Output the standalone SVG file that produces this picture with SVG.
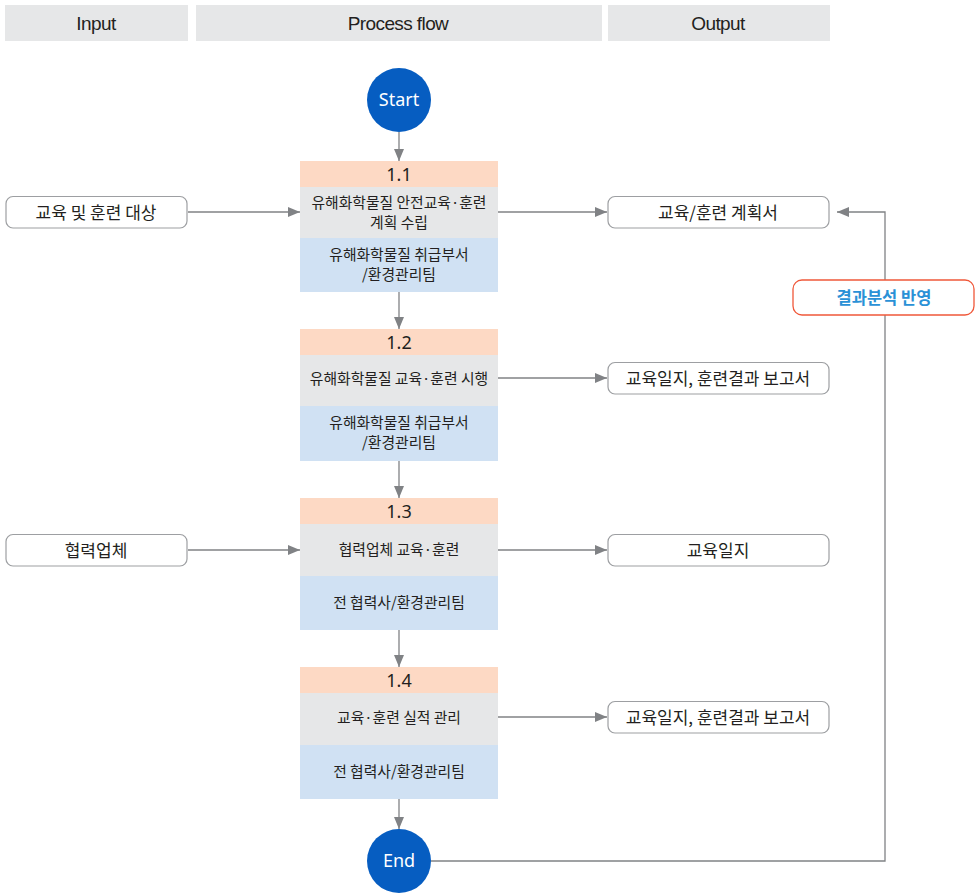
<svg xmlns="http://www.w3.org/2000/svg" width="975" height="896" viewBox="0 0 975 896">
<style>
.hdr{fill:#E6E7E8}
.hdrt{font-family:"Liberation Sans","Noto Sans CJK KR",sans-serif;font-size:19px;fill:#231F20;text-anchor:middle;letter-spacing:-0.6px}
.num{fill:#FDD9C4}
.task{fill:#E6E7E8}
.org{fill:#D0E1F3}
.numt{font-family:"Noto Sans","Liberation Sans",sans-serif;font-size:18px;fill:#231F20;text-anchor:middle}
.t{font-family:"Noto Sans CJK KR",sans-serif;font-size:14.8px;fill:#231F20;text-anchor:middle}
.io{fill:#fff;stroke:#9D9FA2;stroke-width:1.2}
.iot{font-family:"Noto Sans CJK KR",sans-serif;font-size:17px;fill:#231F20;text-anchor:middle}
.circ{fill:#065DC1}
.ct{font-family:"Noto Sans","Liberation Sans",sans-serif;font-size:18px;fill:#fff;text-anchor:middle}
.ln{fill:none;stroke:#808285;stroke-width:1.3}
</style>
<defs>
<marker id="ah" viewBox="0 0 12 10" refX="12" refY="5" markerWidth="13" markerHeight="10" markerUnits="userSpaceOnUse" orient="auto">
<path d="M0,0 L12,5 L0,10 Z" fill="#808285"/>
</marker>
</defs>

<g id="headers">
<rect class="hdr" x="5" y="5" width="183" height="36"/>
<text class="hdrt" x="96" y="30">Input</text>
<rect class="hdr" x="196" y="5" width="406" height="36"/>
<text class="hdrt" x="398" y="30">Process flow</text>
<rect class="hdr" x="608" y="5" width="222" height="36"/>
<text class="hdrt" x="718" y="30">Output</text>
</g>

<g id="connectors">
<line class="ln" x1="399" y1="132" x2="399" y2="161" marker-end="url(#ah)"/>
<line class="ln" x1="399" y1="292" x2="399" y2="329" marker-end="url(#ah)"/>
<line class="ln" x1="399" y1="461" x2="399" y2="498" marker-end="url(#ah)"/>
<line class="ln" x1="399" y1="630" x2="399" y2="667" marker-end="url(#ah)"/>
<line class="ln" x1="399" y1="799" x2="399" y2="829" marker-end="url(#ah)"/>
<line class="ln" x1="188" y1="212" x2="300" y2="212" marker-end="url(#ah)"/>
<line class="ln" x1="188" y1="550" x2="300" y2="550" marker-end="url(#ah)"/>
<line class="ln" x1="498" y1="212" x2="607" y2="212" marker-end="url(#ah)"/>
<line class="ln" x1="498" y1="378" x2="607" y2="378" marker-end="url(#ah)"/>
<line class="ln" x1="498" y1="550" x2="607" y2="550" marker-end="url(#ah)"/>
<line class="ln" x1="498" y1="717" x2="607" y2="717" marker-end="url(#ah)"/>
<polyline class="ln" points="431,861 885,861 885,212 837,212" marker-end="url(#ah)"/>
</g>

<g id="start">
<circle class="circ" cx="399" cy="100" r="32"/>
<text class="ct" x="399" y="106">Start</text>
</g>

<g id="step1_1">
<rect class="num" x="300" y="161" width="198" height="26"/>
<text class="numt" x="399" y="180.5">1.1</text>
<rect class="task" x="300" y="187" width="198" height="51"/>
<text class="t" x="399" y="208">유해화학물질 안전교육·훈련</text>
<text class="t" x="399" y="228">계획 수립</text>
<rect class="org" x="300" y="238" width="198" height="54"/>
<text class="t" x="399" y="260">유해화학물질 취급부서</text>
<text class="t" x="399" y="280">/환경관리팀</text>
</g>

<g id="step1_2">
<rect class="num" x="300" y="329" width="198" height="26"/>
<text class="numt" x="399" y="348.5">1.2</text>
<rect class="task" x="300" y="355" width="198" height="51"/>
<text class="t" x="399" y="384">유해화학물질 교육·훈련 시행</text>
<rect class="org" x="300" y="406" width="198" height="55"/>
<text class="t" x="399" y="428">유해화학물질 취급부서</text>
<text class="t" x="399" y="448">/환경관리팀</text>
</g>

<g id="step1_3">
<rect class="num" x="300" y="498" width="198" height="26"/>
<text class="numt" x="399" y="517.5">1.3</text>
<rect class="task" x="300" y="524" width="198" height="52"/>
<text class="t" x="399" y="555">협력업체 교육·훈련</text>
<rect class="org" x="300" y="576" width="198" height="54"/>
<text class="t" x="399" y="608">전 협력사/환경관리팀</text>
</g>

<g id="step1_4">
<rect class="num" x="300" y="667" width="198" height="26"/>
<text class="numt" x="399" y="686.5">1.4</text>
<rect class="task" x="300" y="693" width="198" height="52"/>
<text class="t" x="399" y="723">교육·훈련 실적 관리</text>
<rect class="org" x="300" y="745" width="198" height="54"/>
<text class="t" x="399" y="777">전 협력사/환경관리팀</text>
</g>

<g id="end">
<circle class="circ" cx="399" cy="861" r="32"/>
<text class="ct" x="399" y="867">End</text>
</g>

<g id="in1">
<rect class="io" x="6" y="196.5" width="181" height="31.5" rx="7"/>
<text class="iot" x="96" y="218.5">교육 및 훈련 대상</text>
</g>
<g id="in2">
<rect class="io" x="6" y="534.5" width="181" height="31.5" rx="7"/>
<text class="iot" x="96" y="556.5">협력업체</text>
</g>

<g id="out1">
<rect class="io" x="608" y="196.5" width="221" height="31.5" rx="7"/>
<text class="iot" x="718" y="218.5">교육/훈련 계획서</text>
</g>
<g id="out2">
<rect class="io" x="608" y="362.5" width="221" height="31.5" rx="7"/>
<text class="iot" x="718" y="384.5">교육일지, 훈련결과 보고서</text>
</g>
<g id="out3">
<rect class="io" x="608" y="534.5" width="221" height="31.5" rx="7"/>
<text class="iot" x="718" y="556.5">교육일지</text>
</g>
<g id="out4">
<rect class="io" x="608" y="701.5" width="221" height="31.5" rx="7"/>
<text class="iot" x="718" y="723.5">교육일지, 훈련결과 보고서</text>
</g>

<g id="feedback">
<rect x="793" y="280" width="181" height="35" rx="9" fill="#fff" stroke="#F0583A" stroke-width="1.3"/>
<text x="884" y="303.5" font-family="Noto Sans CJK KR, sans-serif" font-size="16.5px" font-weight="bold" fill="#2A91D6" text-anchor="middle">결과분석 반영</text>
</g>
</svg>
